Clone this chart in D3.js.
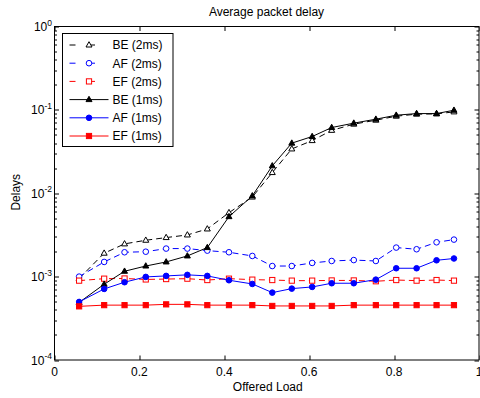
<!DOCTYPE html>
<html>
<head>
<meta charset="utf-8">
<script src="https://cdn.jsdelivr.net/npm/d3@7"></script>
<style>
  body { margin: 0; background: #fff; }
  text { font-family: "Liberation Sans", Arial, sans-serif; fill: #000; }
</style>
</head>
<body>
<div id="chart"></div>
<script>
var loads = [0.058, 0.117, 0.165, 0.215, 0.263, 0.313, 0.36, 0.411, 0.466, 0.513, 0.559, 0.607, 0.653, 0.705, 0.757, 0.805, 0.853, 0.9, 0.941];

var be2 = [9.5e-4, 1.91e-3, 2.47e-3, 2.73e-3, 2.94e-3, 3.16e-3, 3.73e-3, 5.85e-3, 9.0e-3, 1.77e-2, 3.4e-2, 4.28e-2, 5.68e-2, 6.74e-2, 7.52e-2, 8.4e-2, 8.88e-2, 8.95e-2, 9.46e-2];
var af2 = [1.0e-3, 1.5e-3, 1.96e-3, 1.99e-3, 2.17e-3, 2.17e-3, 2.05e-3, 1.96e-3, 1.77e-3, 1.34e-3, 1.34e-3, 1.46e-3, 1.54e-3, 1.58e-3, 1.54e-3, 2.23e-3, 2.13e-3, 2.58e-3, 2.78e-3];
var ef2 = [8.95e-4, 9.45e-4, 9.5e-4, 9.25e-4, 9.35e-4, 9.45e-4, 9.1e-4, 9.45e-4, 9.2e-4, 9.1e-4, 8.95e-4, 8.95e-4, 9.0e-4, 9.0e-4, 8.8e-4, 9.1e-4, 8.95e-4, 9.1e-4, 8.95e-4];
var be1 = [4.9e-4, 8.1e-4, 1.16e-3, 1.34e-3, 1.5e-3, 1.77e-3, 2.23e-3, 5.24e-3, 9.3e-3, 2.13e-2, 3.99e-2, 4.79e-2, 6.14e-2, 6.93e-2, 7.73e-2, 8.63e-2, 9.03e-2, 9.03e-2, 9.9e-2];
var af1 = [4.97e-4, 7.12e-4, 8.57e-4, 9.92e-4, 1.02e-3, 1.05e-3, 1.02e-3, 9.05e-4, 8.17e-4, 6.43e-4, 7.18e-4, 7.52e-4, 8.33e-4, 8.33e-4, 9.2e-4, 1.26e-3, 1.26e-3, 1.57e-3, 1.65e-3];
var ef1 = [4.4e-4, 4.55e-4, 4.55e-4, 4.55e-4, 4.65e-4, 4.65e-4, 4.55e-4, 4.55e-4, 4.55e-4, 4.45e-4, 4.45e-4, 4.45e-4, 4.45e-4, 4.55e-4, 4.55e-4, 4.55e-4, 4.55e-4, 4.55e-4, 4.55e-4];

var seriesNames = ["BE (2ms)", "AF (2ms)", "EF (2ms)", "BE (1ms)", "AF (1ms)", "EF (1ms)"];
var xTicks = [0, 0.2, 0.4, 0.6, 0.8, 1];
var yTicks = [1e-4, 1e-3, 1e-2, 1e-1, 1];
var yTickExp = ["-4", "-3", "-2", "-1", "0"];

var W = 480, H = 398,
    margin = {top: 26.5, right: 1, bottom: 38, left: 54.5},
    width = W - margin.left - margin.right,
    height = H - margin.top - margin.bottom;

var svg = d3.select("#chart").append("svg").attr("width", W).attr("height", H),
    g = svg.append("g").attr("transform", "translate(" + margin.left + "," + margin.top + ")");

var x = d3.scaleLinear().domain([0, 1]).range([0, width]);
var y = d3.scaleLog().domain([1e-4, 1]).range([height, 0]);

var series = [
  {name: seriesNames[0], values: be2, color: "#000", dash: "6,4", marker: "tri", fill: false},
  {name: seriesNames[1], values: af2, color: "#0000ff", dash: "6,4", marker: "circ", fill: false},
  {name: seriesNames[2], values: ef2, color: "#ff0000", dash: "6,4", marker: "sq", fill: false},
  {name: seriesNames[3], values: be1, color: "#000", dash: null, marker: "tri", fill: true},
  {name: seriesNames[4], values: af1, color: "#0000ff", dash: null, marker: "circ", fill: true},
  {name: seriesNames[5], values: ef1, color: "#ff0000", dash: null, marker: "sq", fill: true}
];

function drawMarker(sel, s, cx, cy) {
  var m;
  if (s.marker === "tri") {
    m = sel.append("path").attr("d", "M" + cx + "," + (cy - 3.3) + "L" + (cx + 3) + "," + (cy + 2) + "L" + (cx - 3) + "," + (cy + 2) + "Z");
  } else if (s.marker === "circ") {
    m = sel.append("circle").attr("cx", cx).attr("cy", cy).attr("r", 2.8);
  } else {
    m = sel.append("rect").attr("x", cx - 2.6).attr("y", cy - 2.6).attr("width", 5.2).attr("height", 5.2);
  }
  m.attr("fill", s.fill ? s.color : "#fff").attr("stroke", s.color).attr("stroke-width", 1);
}

// minor ticks for the log axis
var minor = [];
[1e-4, 1e-3, 1e-2, 1e-1].forEach(function(d) {
  for (var k = 2; k < 10; k++) minor.push(d * k);
});

var axes = g.append("g").attr("stroke", "#000").attr("stroke-width", 1);
minor.forEach(function(v) {
  var yy = Math.round(y(v)) + 0.5;
  axes.append("line").attr("x1", 0).attr("x2", 2.5).attr("y1", yy).attr("y2", yy);
  axes.append("line").attr("x1", width).attr("x2", width - 2.5).attr("y1", yy).attr("y2", yy);
});
yTicks.forEach(function(v) {
  var yy = Math.round(y(v)) + 0.5;
  axes.append("line").attr("x1", 0).attr("x2", 4.5).attr("y1", yy).attr("y2", yy);
  axes.append("line").attr("x1", width).attr("x2", width - 4.5).attr("y1", yy).attr("y2", yy);
});
xTicks.forEach(function(v) {
  var xx = Math.round(x(v)) + 0.5;
  axes.append("line").attr("x1", xx).attr("x2", xx).attr("y1", height).attr("y2", height - 4.5);
  axes.append("line").attr("x1", xx).attr("x2", xx).attr("y1", 0).attr("y2", 4.5);
});

// lines and markers
var line = d3.line()
  .x(function(d, i) { return x(loads[i]); })
  .y(function(d) { return y(d); });

series.forEach(function(s) {
  g.append("path")
    .datum(s.values)
    .attr("fill", "none")
    .attr("stroke", s.color)
    .attr("stroke-width", 1)
    .attr("stroke-dasharray", s.dash)
    .attr("d", line);
  var mg = g.append("g");
  s.values.forEach(function(v, i) { drawMarker(mg, s, x(loads[i]), y(v)); });
});

// frame
g.append("rect").attr("x", 0).attr("y", 0).attr("width", width).attr("height", height)
  .attr("fill", "none").attr("stroke", "#000").attr("stroke-width", 1);

// tick labels
g.selectAll(".xl").data(xTicks).enter().append("text")
  .attr("x", function(d) { return x(d); })
  .attr("y", height + 15.5)
  .attr("text-anchor", "middle")
  .style("font-size", "12px")
  .text(function(d) { return d === 0 || d === 1 ? d : d.toFixed(1); });

var yl = g.selectAll(".yl").data(yTicks).enter().append("text")
  .attr("x", -2.5)
  .attr("y", function(d) { return y(d) + 4.5; })
  .attr("text-anchor", "end")
  .style("font-size", "12px");
yl.append("tspan").text("10");
yl.append("tspan").attr("dy", -5.5).style("font-size", "8.5px").text(function(d, i) { return yTickExp[i]; });

// title and axis labels
svg.append("text").attr("x", 266.5).attr("y", 16)
  .attr("text-anchor", "middle").style("font-size", "12px").text("Average packet delay");
svg.append("text").attr("x", margin.left + width / 2 + 1).attr("y", 391)
  .attr("text-anchor", "middle").style("font-size", "12px").text("Offered Load");
svg.append("text").attr("transform", "translate(20," + (margin.top + height / 2 - 1) + ") rotate(-90)")
  .attr("text-anchor", "middle").style("font-size", "12px").text("Delays");

// legend
var lg = svg.append("g").attr("transform", "translate(62.5,33.5)");
lg.append("rect").attr("width", 110.5).attr("height", 113).attr("fill", "#fff")
  .attr("stroke", "#000").attr("stroke-width", 1);
series.forEach(function(s, i) {
  var ly = 11.5 + i * 18.2;
  lg.append("line").attr("x1", 7).attr("x2", 46).attr("y1", ly).attr("y2", ly)
    .attr("stroke", s.color).attr("stroke-width", 1).attr("stroke-dasharray", s.dash ? "6,13.5" : null);
  drawMarker(lg, s, 26.5, ly);
  lg.append("text").attr("x", 50).attr("y", ly + 4.3).style("font-size", "12px").text(s.name);
});
</script>
</body>
</html>
